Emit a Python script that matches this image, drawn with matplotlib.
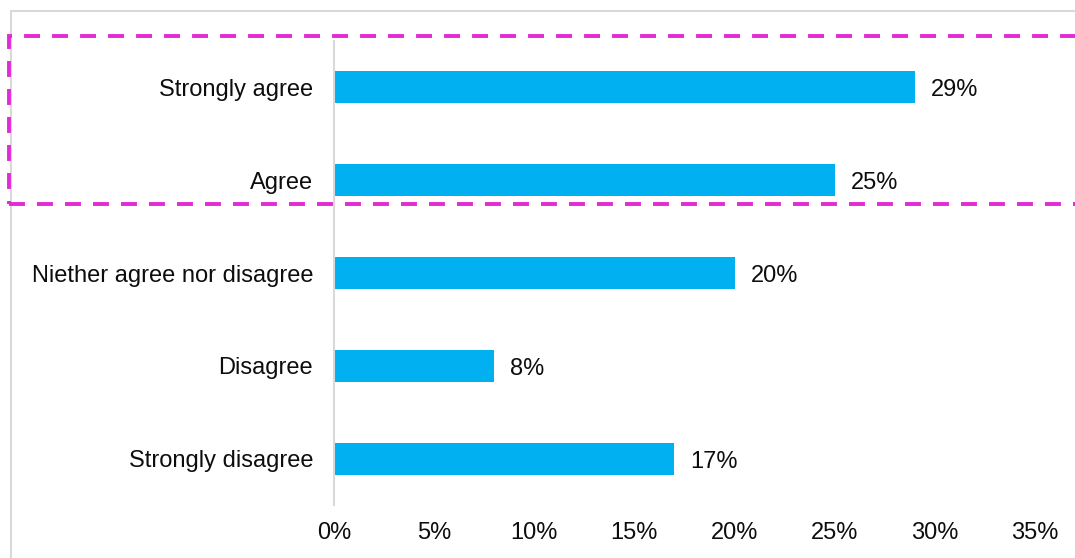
import matplotlib.pyplot as plt
from matplotlib.patches import Rectangle

categories = ['Strongly agree', 'Agree', 'Niether agree nor disagree',
              'Disagree', 'Strongly disagree']
shares = [29, 25, 20, 8, 17]
xticks = [0, 5, 10, 15, 20, 25, 30, 35]

plt.rcParams['font.family'] = ['Liberation Sans', 'DejaVu Sans']

fig = plt.figure(figsize=(10.75, 5.58), dpi=100)
ax = fig.add_axes([0.3107, 0.0941, 0.6521, 0.8333])

ypos = list(range(len(categories)))
ax.barh(ypos, shares, height=0.345, color='#00B0F0')
for y, v in zip(ypos, shares):
    ax.annotate(f'{v}%', (v, y), xytext=(11.5, -2.5), textcoords='offset points',
                va='center', ha='left', fontsize=17, color='#0d0d0d')

ax.set_yticks(ypos)
ax.set_yticklabels(categories, fontsize=17, color='#0d0d0d')
ax.set_ylim(len(categories) - 0.5, -0.5)
ax.set_xlim(0, 35)
ax.set_xticks(xticks)
ax.set_xticklabels([f'{t}%' for t in xticks], fontsize=17, color='#0d0d0d')
ax.tick_params(axis='both', length=0)
ax.tick_params(axis='y', pad=15)
ax.tick_params(axis='x', pad=12)

for side in ['top', 'right', 'bottom']:
    ax.spines[side].set_visible(False)
ax.spines['left'].set_color('#d9d9d9')
ax.spines['left'].set_linewidth(1.5)

# outer chart frame (only the left and top edges fall inside the image)
fig.patches.append(Rectangle((11 / 1075, -0.2), 1.2, 1.2 - 11 / 558,
                             transform=fig.transFigure, fill=False,
                             edgecolor='#d9d9d9', linewidth=1.5))

# dashed highlight around the two "agree" rows
y_top = 1 - 36 / 558
y_bot = 1 - 204 / 558
fig.patches.append(Rectangle((9 / 1075, y_bot), 1.1, y_top - y_bot,
                             transform=fig.transFigure, fill=False,
                             edgecolor='#E42AD4', linewidth=2.8,
                             linestyle=(0, (4.1, 3.1)), zorder=5))

fig.savefig('out.png', dpi=100)
